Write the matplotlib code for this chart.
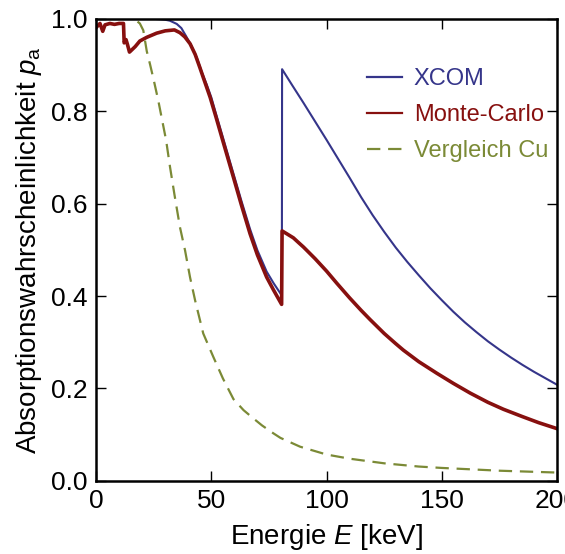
import matplotlib
matplotlib.use("Agg")
from matplotlib import pyplot as plt

plt.rcParams['font.family'] = ['Liberation Sans', 'DejaVu Sans']
plt.rcParams['mathtext.fontset'] = 'custom'
plt.rcParams['mathtext.rm'] = 'Liberation Sans'
plt.rcParams['mathtext.it'] = 'Liberation Sans:italic'

# XCOM reference (gold, K-edge at 80.7 keV)
xcom_E = [0, 5, 10, 15, 20, 25, 28, 30, 32, 35, 37, 39, 41, 43.7, 46, 48, 50, 52, 55, 59.6, 63,
          66.8, 70, 74, 77, 80.6, 80.7, 85, 90, 95, 100, 105, 110, 115, 120, 125, 130, 135,
          140, 145, 150, 155, 160, 165, 170, 175, 180, 185, 190, 195, 200]
xcom_p = [1.0, 1.0, 1.0, 1.0, 1.0, 1.0, 0.999, 0.998, 0.996, 0.989, 0.98, 0.963, 0.945, 0.916,
          0.883, 0.858, 0.83, 0.795, 0.744, 0.665, 0.607, 0.545, 0.499, 0.453, 0.428, 0.401,
          0.891, 0.857, 0.818, 0.778, 0.738, 0.697, 0.656, 0.614, 0.575, 0.539, 0.505, 0.474,
          0.445, 0.417, 0.391, 0.366, 0.343, 0.322, 0.302, 0.284, 0.267, 0.251, 0.236, 0.222,
          0.208]

# Monte-Carlo simulation
mc_E = [0, 1.7, 2.9, 3.9, 6, 8, 10, 11.9, 12.2, 13.0, 13.6, 14.5, 17, 19, 22, 26.3, 30, 32, 34,
        36.4, 38.5, 40.8, 43, 45, 47, 49.5, 52, 55, 59.6, 63, 66.8, 70, 74, 77, 80.5, 80.7, 83,
        85.6, 88, 90, 95, 100, 104.4, 110, 115, 118.9, 125, 130, 133.3, 140, 147.8, 155, 162.3,
        170, 176.7, 185, 192, 200]
mc_p = [0.981, 0.99, 0.973, 0.987, 0.99, 0.988, 0.99, 0.99, 0.948, 0.955, 0.945, 0.928, 0.94,
        0.952, 0.96, 0.969, 0.974, 0.975, 0.976, 0.970, 0.961, 0.946, 0.923, 0.895, 0.866,
        0.83, 0.788, 0.736, 0.657, 0.598, 0.535, 0.489, 0.441, 0.413, 0.382, 0.541, 0.534,
        0.526, 0.515, 0.506, 0.481, 0.454, 0.428, 0.396, 0.369, 0.349, 0.319, 0.297, 0.283,
        0.258, 0.233, 0.211, 0.19, 0.17, 0.155, 0.139, 0.126, 0.113]

# Cu comparison
cu_E = [0, 10, 15, 17, 19, 20.5, 22, 23.4, 25, 27, 28.5, 30.4, 32.1, 34, 36.4, 38.6, 40.8, 43,
        46.5, 50.9, 55, 59.6, 64, 68.3, 72, 76.9, 80, 88.5, 100, 110, 125, 140, 150, 175, 200]
cu_p = [1.0, 1.0, 1.0, 0.998, 0.99, 0.975, 0.93, 0.902, 0.868, 0.823, 0.785, 0.737, 0.679,
        0.62, 0.549, 0.499, 0.44, 0.39, 0.319, 0.268, 0.222, 0.177, 0.153, 0.135, 0.12, 0.103,
        0.093, 0.074, 0.057, 0.048, 0.038, 0.031, 0.028, 0.022, 0.018]

fig = plt.figure(figsize=(5.65, 5.54), dpi=100)
ax = fig.add_axes([0.170, 0.132, 0.816, 0.834])

ax.plot(xcom_E, xcom_p, color='#35358a', lw=1.5, label='XCOM')
ax.plot(mc_E, mc_p, color='#87100f', lw=2.6, label='Monte-Carlo')
ax.plot(cu_E, cu_p, color='#7b8a36', lw=1.6, dashes=(6, 3.5), label='Vergleich Cu')

ax.set_xlim(0, 200)
ax.set_ylim(0, 1.0)
ax.set_xticks([0, 50, 100, 150, 200])
ax.set_yticks([0.0, 0.2, 0.4, 0.6, 0.8, 1.0])
ax.tick_params(direction='in', top=True, right=True, length=7, width=1, labelsize=19, pad=6)
for s in ax.spines.values():
    s.set_linewidth(1.8)

ax.set_xlabel('Energie $E$ [keV]', fontsize=20, labelpad=6)
ax.set_ylabel('Absorptionswahrscheinlichkeit $p_\\mathrm{a}$', fontsize=20, labelpad=5)

leg = ax.legend(loc='upper right', bbox_to_anchor=(1.027, 0.94), frameon=False, fontsize=17,
                handlelength=1.5, handletextpad=0.5, labelcolor='linecolor', labelspacing=0.6)
for line in leg.get_lines():
    line.set_linewidth(1.6)

fig.savefig('out.png', dpi=100)
